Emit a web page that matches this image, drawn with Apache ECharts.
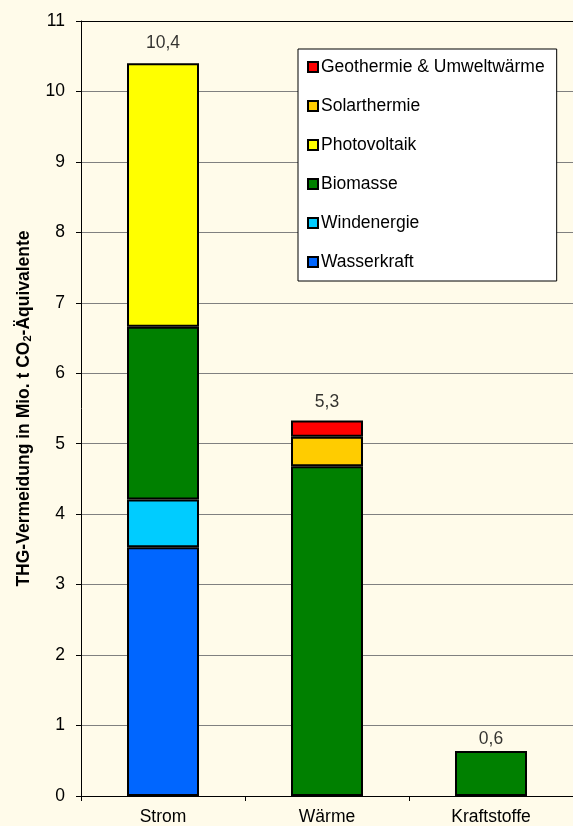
<!DOCTYPE html>
<html>
<head>
<meta charset="utf-8">
<script src="https://cdn.jsdelivr.net/npm/echarts@6/dist/echarts.min.js"></script>
<style>
  html, body { margin: 0; padding: 0; background: #FFFBEA; }
  #chart { width: 573px; height: 826px; }
</style>
</head>
<body>
<div id="chart"></div>
<script>
// Sectors on the category axis
const categories = ['Strom', 'Wärme', 'Kraftstoffe'];

// Avoided greenhouse gas emissions per source (Mio. t CO2-eq), one value per sector
const wasserkraft  = [3.53, null, null];
const windenergie  = [0.68, null, null];
const biomasse     = [2.45, 4.68, 0.64];
const photovoltaik = [3.74, null, null];
const solarthermie = [null, 0.42, null];
const geothermie   = [null, 0.23, null];

// Y axis ticks
const yTicks = [0, 1, 2, 3, 4, 5, 6, 7, 8, 9, 10, 11];

const FONT = 'Liberation Sans, Arial, sans-serif';
const FS = 17.5;

// stacking order from bottom to top
const stackSeries = [
  { name: 'Wasserkraft', data: wasserkraft, color: '#0066FF' },
  { name: 'Windenergie', data: windenergie, color: '#00CCFF' },
  { name: 'Biomasse', data: biomasse, color: '#008000' },
  { name: 'Photovoltaik', data: photovoltaik, color: '#FFFF00' },
  { name: 'Solarthermie', data: solarthermie, color: '#FFCC00' },
  { name: 'Geothermie & Umweltwärme', data: geothermie, color: '#FF0000' }
];

// column totals for the value labels above each bar
const totals = categories.map((c, i) =>
  stackSeries.reduce((s, ser) => s + (ser.data[i] || 0), 0));
const labelDistance = [11, 9, 2];

const series = stackSeries.map(s => ({
  name: s.name,
  type: 'bar',
  stack: 'total',
  barWidth: 72,
  xAxisIndex: 0,
  data: s.data.map(v => (v == null ? '-' : v)),
  itemStyle: { color: s.color, borderColor: '#000', borderWidth: 2 },
  emphasis: { disabled: true }
}));

series.push({
  name: 'Summe',
  type: 'scatter',
  xAxisIndex: 0,
  symbolSize: 1,
  itemStyle: { color: 'rgba(0,0,0,0)' },
  data: totals.map((t, i) => ({
    value: t,
    label: { distance: labelDistance[i] }
  })),
  label: {
    show: true,
    position: 'top',
    color: '#000',
    fontFamily: FONT,
    fontSize: FS,
    formatter: p => p.value.toFixed(1).replace('.', ',')
  },
  silent: true
});

const chart = echarts.init(document.getElementById('chart'), null, { renderer: 'canvas' });
chart.setOption({
  backgroundColor: '#FFFBEA',
  animation: false,
  textStyle: { fontFamily: FONT },
  grid: { left: 81, top: 21, width: 498, height: 776, containLabel: false },
  legend: {
    orient: 'vertical',
    left: 298,
    top: 49,
    data: stackSeries.slice().reverse().map(s => s.name),
    icon: 'rect',
    itemWidth: 10,
    itemHeight: 10,
    itemGap: 21,
    backgroundColor: '#FFFFFF',
    borderColor: '#000',
    borderWidth: 1,
    borderRadius: 0,
    padding: [9, 12, 10, 9],
    textStyle: { fontFamily: FONT, fontSize: FS, color: '#000', padding: [0, 0, 0, -2] },
    selectedMode: false
  },
  xAxis: [
    {
      type: 'category',
      data: categories,
      position: 'bottom',
      axisLine: { lineStyle: { color: '#000', width: 1 } },
      axisTick: { show: true, length: 5, alignWithLabel: false, lineStyle: { color: '#000' } },
      axisLabel: { color: '#000', fontFamily: FONT, fontSize: FS, margin: 12 }
    },
    {
      type: 'category',
      data: categories,
      position: 'top',
      axisLine: { lineStyle: { color: '#000', width: 1 } },
      axisTick: { show: false },
      axisLabel: { show: false }
    }
  ],
  yAxis: {
    type: 'value',
    min: yTicks[0],
    max: yTicks[yTicks.length - 1],
    interval: 1,
    name: 'THG-Vermeidung in Mio. t CO{sub|2}-Äquivalente',
    nameLocation: 'middle',
    nameRotate: 90,
    nameGap: 48,
    nameTextStyle: {
      color: '#000',
      fontFamily: FONT,
      fontSize: FS,
      fontWeight: 'bold',
      rich: {
        sub: { fontSize: 11, fontWeight: 'bold', fontFamily: FONT, color: '#000', verticalAlign: 'bottom', padding: [7, 0, 0, 0] }
      }
    },
    axisLine: { show: true, lineStyle: { color: '#000', width: 1 } },
    axisTick: { show: true, length: 5, lineStyle: { color: '#000' } },
    axisLabel: { color: '#000', fontFamily: FONT, fontSize: FS, margin: 16 },
    splitLine: { show: true, lineStyle: { color: '#808080', width: 1 } }
  },
  series: series
});
</script>
</body>
</html>
